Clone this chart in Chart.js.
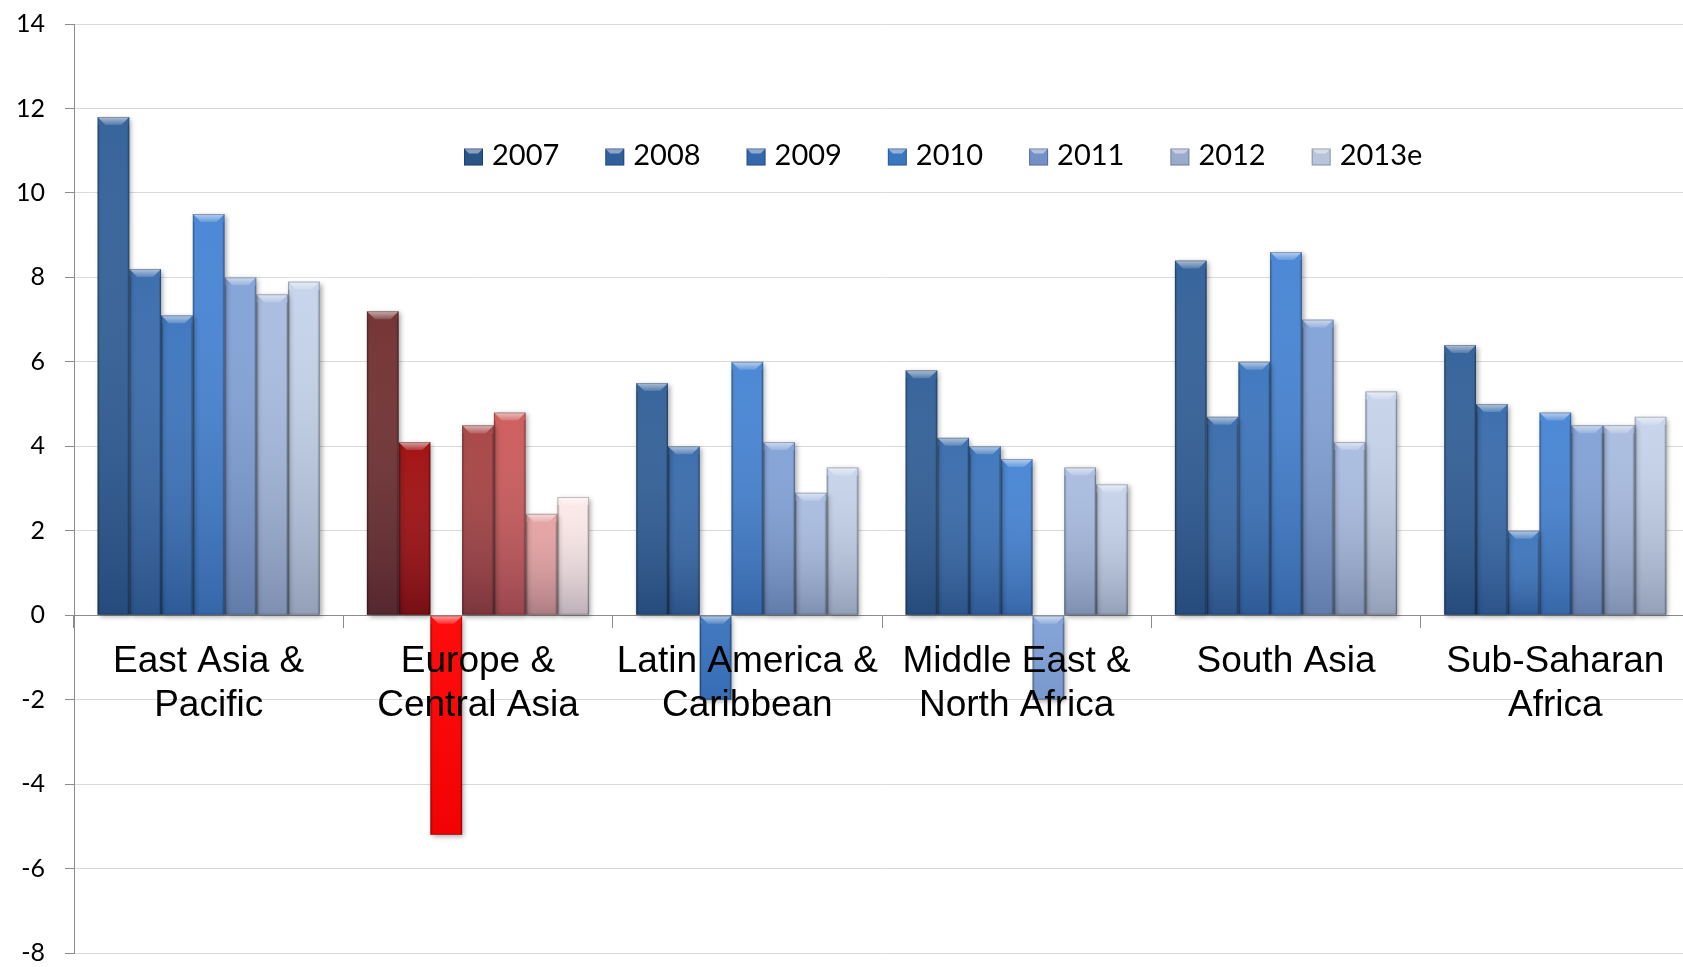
<!DOCTYPE html>
<html>
<head>
<meta charset="utf-8">
<title>Real GDP growth by region</title>
<script src="https://cdn.jsdelivr.net/npm/chart.js@4.4.1/dist/chart.umd.min.js"></script>
<style>
  html, body { margin: 0; padding: 0; background: #fff; overflow: hidden; }
  canvas { display: block; }
</style>
</head>
<body>
<canvas id="growthChart" width="1690" height="967"></canvas>
<script>
// regions on the category axis (multi-line labels)
const regions = [
    ['East Asia &', 'Pacific'],
    ['Europe &', 'Central Asia'],
    ['Latin America &', 'Caribbean'],
    ['Middle East &', 'North Africa'],
    'South Asia',
    ['Sub-Saharan', 'Africa']
];
const years = ['2007', '2008', '2009', '2010', '2011', '2012', '2013e'];

// growth, % per year, one value per region
const growth2007 = [11.8, 7.2, 5.5, 5.8, 8.4, 6.4];
const growth2008 = [8.2, 4.1, 4.0, 4.2, 4.7, 5.0];
const growth2009 = [7.1, -5.2, -2.0, 4.0, 6.0, 2.0];
const growth2010 = [9.5, 4.5, 6.0, 3.7, 8.6, 4.8];
const growth2011 = [8.0, 4.8, 4.1, -2.0, 7.0, 4.5];
const growth2012 = [7.6, 2.4, 2.9, 3.5, 4.1, 4.5];
const growth2013e = [7.9, 2.8, 3.5, 3.1, 5.3, 4.7];

const yTicks = [-8, -6, -4, -2, 0, 2, 4, 6, 8, 10, 12, 14];

const series = [growth2007, growth2008, growth2009, growth2010, growth2011, growth2012, growth2013e];

const blueShades = ['#2C5C96', '#3468AA', '#3872BC', '#4282D4', '#7FA0D6', '#A7BBE0', '#C4D2EA'];
const redShades = ['#6E2A2A', '#9E0707', '#FF0000', '#A53E3E', '#CC5656', '#E6A0A0', '#FDE8E8'];
const legendShades = ['#2A5588', '#30609C', '#3468AA', '#3B76C0', '#7490C6', '#9AABCD', '#B8C4DA'];
const europe = 1;

// soft shadow under the bars, then a bevelled top face and shading on each bar
const bevel = {
    id: 'bevel',
    beforeDatasetsDraw(chart) {
        const ctx = chart.ctx;
        ctx.save();
        ctx.shadowColor = 'rgba(0,0,0,0.35)';
        ctx.shadowBlur = 5;
        ctx.shadowOffsetX = 2;
        ctx.shadowOffsetY = 2;
    },
    afterDatasetsDraw(chart) {
        const ctx = chart.ctx;
        ctx.restore();
        ctx.save();
        chart.data.datasets.forEach((ds, k) => {
            const meta = chart.getDatasetMeta(k);
            meta.data.forEach((bar) => {
                const p = bar.getProps(['x', 'y', 'base', 'width'], true);
                const left = p.x - p.width / 2;
                const right = p.x + p.width / 2;
                const top = Math.min(p.y, p.base);
                const bottom = Math.max(p.y, p.base);
                const h = bottom - top;
                const negative = p.y > p.base;

                const g = ctx.createLinearGradient(0, top, 0, bottom);
                g.addColorStop(0, 'rgba(255,255,255,0.05)');
                g.addColorStop(1, negative ? 'rgba(20,30,55,0.06)' : 'rgba(20,30,55,0.28)');
                ctx.fillStyle = g;
                ctx.fillRect(left, top, p.width, h);

                const b = Math.min(8, h / 2);
                const tg = ctx.createLinearGradient(0, top, 0, top + b);
                tg.addColorStop(0, 'rgba(255,255,255,0.6)');
                tg.addColorStop(1, 'rgba(255,255,255,0.15)');
                ctx.fillStyle = tg;
                ctx.beginPath();
                ctx.moveTo(left, top);
                ctx.lineTo(right, top);
                ctx.lineTo(right - b, top + b);
                ctx.lineTo(left + b, top + b);
                ctx.closePath();
                ctx.fill();

                ctx.fillStyle = 'rgba(0,0,0,0.12)';
                ctx.fillRect(left, top + b, 2, h - b);
                ctx.fillRect(right - 2, top + b, 2, h - b);

                ctx.strokeStyle = 'rgba(0,0,0,0.25)';
                ctx.lineWidth = 1;
                ctx.strokeRect(left + 0.5, top + 0.5, p.width - 1, h - 1);
            });
        });
        ctx.restore();
    }
};

// one-row legend drawn inside the plot area
const yearLegend = {
    id: 'yearLegend',
    afterDraw(chart) {
        const ctx = chart.ctx;
        ctx.save();
        ctx.font = '29px Lato';
        ctx.textBaseline = 'middle';
        ctx.textAlign = 'left';
        let x = 464;
        const cy = 157;
        chart.data.datasets.forEach((ds, k) => {
            const bw = 19, bh = 17;
            const by = cy - bh / 2;
            ctx.fillStyle = legendShades[k];
            ctx.fillRect(x, by, bw, bh);
            ctx.fillStyle = 'rgba(255,255,255,0.45)';
            ctx.beginPath();
            ctx.moveTo(x, by);
            ctx.lineTo(x + bw, by);
            ctx.lineTo(x + bw - 5, by + 5);
            ctx.lineTo(x + 5, by + 5);
            ctx.closePath();
            ctx.fill();
            ctx.strokeStyle = 'rgba(0,0,0,0.25)';
            ctx.strokeRect(x + 0.5, by + 0.5, bw - 1, bh - 1);

            ctx.fillStyle = '#000';
            ctx.fillText(ds.label, x + 28, cy - 1);
            x += 28 + ctx.measureText(ds.label).width + 46;
        });
        ctx.restore();
    }
};

function drawChart() {
    const ctx = document.getElementById('growthChart');
    new Chart(ctx, {
        type: 'bar',
        data: {
            labels: regions,
            datasets: series.map((values, k) => ({
                label: years[k],
                data: values,
                backgroundColor: regions.map((r, i) => i === europe ? redShades[k] : blueShades[k]),
                borderWidth: 0,
                categoryPercentage: 0.825,
                barPercentage: 1.0
            }))
        },
        options: {
            responsive: false,
            animation: false,
            devicePixelRatio: 1,
            layout: {
                padding: { left: 0, right: 0, top: 24, bottom: 14 }
            },
            plugins: {
                legend: { display: false },
                tooltip: { enabled: false }
            },
            scales: {
                x: {
                    position: { y: 0 },
                    grid: {
                        offset: true,
                        drawOnChartArea: false,
                        drawTicks: true,
                        tickLength: 12,
                        color: '#8C8C8C'
                    },
                    border: { color: '#8C8C8C', width: 1 },
                    ticks: {
                        z: 1,
                        autoSkip: false,
                        maxRotation: 0,
                        padding: 13,
                        color: '#000',
                        font: { family: 'Liberation Sans', size: 37, lineHeight: 1.18 }
                    }
                },
                y: {
                    min: yTicks[0],
                    max: yTicks[yTicks.length - 1],
                    afterFit: (scale) => {
                        scale.width = 74;
                        scale.paddingTop = 0;
                        scale.paddingBottom = 0;
                    },
                    afterBuildTicks: (scale) => { scale.ticks = yTicks.map(v => ({ value: v })); },
                    grid: {
                        color: '#DADADA',
                        tickColor: '#8C8C8C',
                        tickLength: 9
                    },
                    border: { color: '#8C8C8C', width: 1 },
                    ticks: {
                        padding: 20,
                        color: '#000',
                        font: { family: 'Lato', size: 25 }
                    }
                }
            }
        },
        plugins: [bevel, yearLegend]
    });
}

Promise.all([
    document.fonts.load('37px "Liberation Sans"'),
    document.fonts.load('29px Lato')
]).then(drawChart, drawChart);
</script>
</body>
</html>
